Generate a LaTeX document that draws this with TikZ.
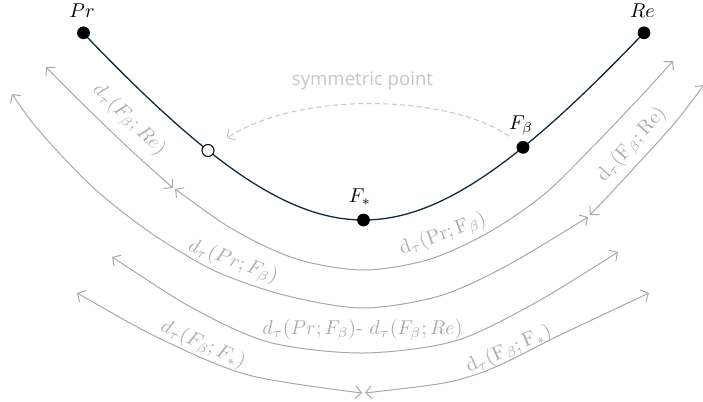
\documentclass[tikz,border=0pt]{standalone}
\usepackage{fontspec}
\setsansfont{Open Sans}
\usetikzlibrary{arrows.meta}

\definecolor{pathnavy}{RGB}{14,42,60}
\definecolor{arcgray}{RGB}{168,168,168}
\definecolor{textgray}{RGB}{172,172,172}
\definecolor{hintgray}{RGB}{198,198,198}

\begin{document}
\begin{tikzpicture}[x=0.5pt, y=-0.5pt,
    point/.style={circle, fill=black, inner sep=0pt, minimum size=6.4pt},
    openpoint/.style={circle, draw=black, fill=white, line width=0.5pt, inner sep=0pt, minimum size=6pt},
    dimarc/.style={arcgray, line width=0.5pt, {Straight Barb[length=3pt,width=6.5pt]}-{Straight Barb[length=3pt,width=6.5pt]}},
    dist/.style={textgray, inner sep=0pt}]
    \useasboundingbox (0,0) rectangle (703,402);

    % the path from Pr to Re
    \draw[pathnavy, line width=0.65pt] plot[smooth, domain=-280.5:280.5, samples=60, variable=\t]
        ({363.5+\t}, {220-249*(sqrt(1+(\t/195)^2)-1)});

    % points on the path
    \node[point] (Pr) at (83.5,32.8) {};
    \node[openpoint] (sym) at (208,150.5) {};
    \node[point] (Fs) at (363.5,220) {};
    \node[point] (Fb) at (523,147.3) {};
    \node[point] (Re) at (644,32.8) {};
    \node[inner sep=0pt] (PrL) at (82,10.5) {$Pr$};
    \node[inner sep=0pt] (ReL) at (642.5,10.5) {$Re$};
    \node[inner sep=0pt] (FbL) at (521,126) {$F_\beta$};
    \node[inner sep=0pt] (FsL) at (360,197) {$F_*$};

    % symmetric point hint
    \node[hintgray, inner sep=0pt, font=\sffamily\fontsize{9.3}{11}\selectfont] (symL) at (362.5,81) {symmetric point};
    \draw[hintgray, line width=0.5pt, dash pattern=on 2.6pt off 1.6pt, -{Straight Barb[length=3pt,width=6.5pt]}, shorten >=8pt]
        (FbL.south west) .. controls (450,95) and (300,90) .. (sym);

    % distances, first row
    \draw[dimarc] plot[smooth] coordinates {(46,67) (78,99.3) (129.8,149.2) (173,188)};
    \draw[dimarc] plot[smooth] coordinates {(175,189) (238.3,232.4) (298.4,259.6) (363.5,270) (428.6,259.6)
        (488.7,232.4) (544.2,194.3) (594,145.5) (643.3,93.7) (673,61)};
    \node[dist, rotate=-44] (d1) at (129,120) {$d_\tau(F_\beta;Re)$};
    \node[dist, rotate=20] (d2) at (443,235) {$\mathrm{d}_\tau(\mathrm{Pr};\mathrm{F}_\beta)$};

    % second row
    \draw[dimarc] plot[smooth] coordinates {(12,94) (42.5,134.6) (94,188.3) (152.1,233.8) (215.7,271.3)
        (286.9,295.8) (363.5,308) (440.1,295.8) (507.8,265.2) (588,217)};
    \draw[dimarc] plot[smooth] coordinates {(590,215) (624.2,178.7) (673.8,124) (704,85)};
    \node[dist, rotate=-20] (d3) at (233,262) {$d_\tau(Pr;F_\beta)$};
    \node[dist, rotate=48] (d4) at (632,145) {$\mathrm{d}_\tau(\mathrm{F}_\beta;\mathrm{Re})$};

    % third row
    \draw[dimarc] plot[smooth] coordinates {(112,257) (200,312) (272,343) (363.5,353) (455,341)
        (535,303) (618,252)};
    \node[dist] (d5) at (362.5,330) {$d_\tau(Pr;F_\beta)$- $d_\tau(F_\beta;Re)$};

    % fourth row
    \draw[dimarc] plot[smooth] coordinates {(77,293) (167,342) (250,375.5) (362,393)};
    \draw[dimarc] plot[smooth] coordinates {(365,393) (473,375.5) (562,334) (649,293)};
    \node[dist, rotate=-24] (d6) at (203,345) {$d_\tau(F_\beta;F_*)$};
    \node[dist, rotate=24] (d7) at (509,350) {$\mathrm{d}_\tau(\mathrm{F}_\beta;\mathrm{F}_*)$};
\end{tikzpicture}
\end{document}
